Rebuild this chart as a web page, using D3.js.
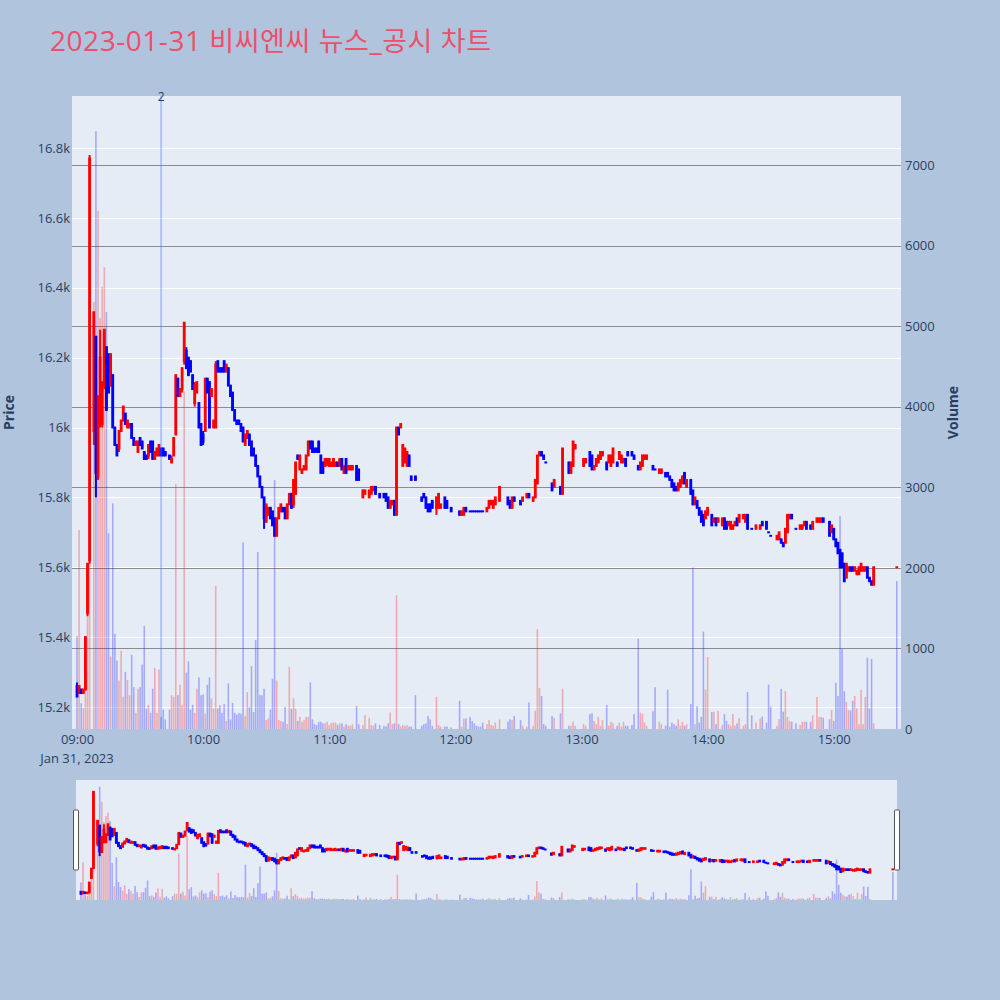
<!DOCTYPE html>
<html><head><meta charset="utf-8">
<script src="https://cdn.jsdelivr.net/npm/d3@7"></script>
<style>
body{margin:0;background:#b0c4de;}
svg{display:block;font-family:"Open Sans",Verdana,Arial,sans-serif;}
</style>
</head><body>
<svg id="chart" width="1000" height="1000"></svg>
<script>
// ---------------- DATA (minute offset from 09:00, OHLC, volume) ----------------
const minutes = [
0,1,2,3,4,5,6,8,9,10,11,12,13,14,15,16,
17,18,19,20,21,22,23,24,25,26,27,28,29,30,31,32,33,34,35,36,37,38,39,40,41,42,
44,45,46,47,48,49,50,51,52,53,54,55,56,57,58,59,60,
61,62,63,64,65,66,67,68,69,70,71,
72,73,74,75,76,77,78,79,80,81,82,83,84,85,86,87,88,89,
90,91,92,93,94,95,96,97,98,99,100,101,102,103,104,105,106,107,108,109,110,
111,112,113,114,115,116,117,118,119,120,121,122,123,124,125,126,127,128,129,130,131,
133,134,136,137,139,140,141,142,144,146,147,148,149,150,151,152,153,154,155,156,157,158,159,161,164,165,166,167,168,169,171,172,173,175,176,178,182,183,184,185,187,188,189,190,191,192,193,
195,196,197,198,199,201,205,206,207,208,211,212,214,215,217,218,219,220,221,222,223,226,227,230,231,234,235,236,237,241,242,244,245,246,247,248,249,250,252,253,254,255,257,258,259,260,261,262,
264,265,267,268,269,270,271,274,275,277,278,280,281,282,283,284,285,286,287,288,289,290,292,293,294,295,296,297,298,299,300,302,303,304,305,307,308,309,310,311,312,313,314,315,317,318,319,
321,323,325,326,328,329,330,333,334,335,336,337,338,339,340,342,344,345,346,347,349,350,352,353,354,355,358,359,360,361,362,363,364,365,366,367,368,369,370,371,372,373,374,375,376,377,378,379,390];

const opens = [
15260,15240,15250,15240,15250,15470,15620,15990,16260,15860,16010,16010,16120,16230,16210,16120,
16150,16000,15950,15940,15990,16020,16040,16000,16000,16010,15970,15950,15930,15970,15960,15930,15920,15920,15960,15960,15910,15920,15920,15940,15940,15930,
15920,15900,15920,15980,16140,16090,16110,16190,16220,16200,16190,16150,16070,16100,16070,16010,15980,
15990,16140,16130,16090,16000,16000,16190,16170,16170,16190,16160,
16170,16120,16100,16050,16020,16020,16010,16000,15950,15970,15980,15960,15940,15920,15890,15860,15830,15800,
15730,15750,15770,15760,15740,15690,15740,15760,15770,15770,15740,15780,15810,15780,15810,15920,15880,15870,15880,15880,15920,
15960,15960,15940,15940,15960,15920,15900,15890,15900,15890,15890,15890,15890,15900,15890,15910,15870,15910,15880,15880,15880,
15890,15880,15800,15810,15800,15810,15820,15830,15810,15810,15810,15800,15770,15780,15790,15750,16000,16000,15890,15900,15890,15920,15860,15860,15800,15810,15800,15780,15780,15790,15770,15770,15770,15800,15790,15770,15760,15750,15750,15770,15760,15760,15760,15760,15760,15760,15760,
15760,15770,15780,15770,15780,15790,15800,15790,15770,15800,15790,15790,15800,15810,15790,15800,15840,15920,15930,15920,15900,15840,15830,15830,15810,15900,15870,15890,15940,15890,15900,15930,15920,15880,15890,15900,15910,15920,15900,15900,15890,15900,15900,15910,15900,15900,15910,15930,
15930,15920,15890,15880,15890,15910,15910,15890,15880,15870,15870,15870,15870,15860,15850,15840,15830,15820,15830,15840,15870,15830,15850,15820,15780,15790,15770,15760,15750,15740,15750,15750,15730,15740,15730,15720,15740,15730,15720,15710,15710,15720,15740,15730,15740,15730,15750,
15710,15710,15710,15730,15730,15700,15690,15680,15680,15680,15670,15670,15700,15740,15750,15710,15710,15710,15720,15730,15720,15710,15730,15730,15730,15740,15730,15700,15710,15680,15670,15650,15640,15610,15570,15590,15600,15600,15590,15580,15580,15590,15590,15590,15600,15570,15560,15550,15600];

const highs = [
15270,15260,15250,15250,15400,15610,16780,16330,16260,16090,16280,16130,16280,16230,16210,16210,
16150,16000,15950,15990,16020,16060,16040,16020,16010,16010,15970,15960,15960,15970,15960,15930,15920,15950,15960,15960,15930,15940,15950,15940,15940,15930,
15920,15920,15970,16150,16140,16110,16170,16300,16230,16200,16190,16150,16130,16130,16070,16010,15990,
16140,16140,16130,16110,16020,16190,16190,16170,16170,16190,16180,
16170,16120,16100,16050,16020,16020,16010,16000,15980,15990,15980,15960,15940,15920,15890,15860,15830,15800,
15780,15770,15770,15760,15740,15740,15770,15780,15770,15770,15780,15810,15810,15850,15900,15920,15920,15880,15890,15920,15960,
15960,15960,15940,15940,15960,15920,15900,15910,15910,15910,15900,15910,15900,15900,15910,15910,15890,15910,15890,15890,15890,
15890,15880,15820,15820,15820,15830,15830,15830,15810,15810,15810,15800,15790,15790,15790,16000,16000,16010,15950,15940,15930,15920,15860,15860,15800,15810,15800,15780,15780,15790,15800,15810,15780,15800,15790,15770,15760,15760,15770,15770,15760,15760,15760,15760,15760,15760,15760,
15770,15790,15790,15790,15800,15830,15800,15790,15800,15800,15790,15800,15810,15810,15800,15850,15920,15930,15930,15920,15900,15840,15850,15830,15940,15900,15900,15960,15950,15910,15910,15930,15920,15890,15910,15920,15930,15930,15900,15920,15920,15940,15900,15930,15920,15910,15910,15930,
15930,15920,15890,15900,15920,15920,15920,15890,15880,15880,15880,15870,15870,15860,15850,15840,15830,15840,15850,15860,15870,15850,15850,15820,15800,15790,15770,15760,15750,15760,15770,15750,15740,15740,15740,15740,15740,15730,15730,15730,15720,15730,15740,15750,15750,15750,15750,
15710,15720,15720,15730,15730,15700,15690,15690,15700,15680,15670,15710,15750,15750,15750,15710,15720,15720,15730,15730,15720,15730,15740,15740,15740,15740,15730,15720,15710,15680,15670,15650,15640,15610,15610,15600,15600,15600,15600,15590,15600,15610,15600,15600,15600,15570,15560,15600,15600];

const lows = [
15230,15240,15240,15240,15250,15460,15610,15950,15800,15850,16000,16000,16110,16050,16100,16120,
16000,15950,15920,15930,15990,16020,16010,16000,16000,15970,15950,15950,15930,15950,15940,15910,15910,15910,15930,15910,15910,15920,15920,15920,15920,15920,
15910,15900,15920,15980,16090,16090,16100,16180,16170,16150,16160,16110,16060,16100,16000,15950,15950,
15990,16100,16000,16090,16000,16000,16160,16160,16160,16160,16160,
16120,16090,16050,16020,16010,16010,15990,15960,15950,15970,15950,15920,15920,15890,15860,15830,15800,15710,
15730,15750,15740,15720,15690,15690,15740,15760,15760,15740,15740,15780,15770,15770,15810,15910,15880,15870,15880,15880,15920,
15940,15930,15930,15930,15930,15870,15870,15890,15890,15890,15890,15890,15890,15890,15890,15880,15870,15870,15880,15880,15880,
15850,15850,15800,15810,15800,15810,15820,15810,15800,15800,15790,15770,15770,15780,15750,15750,15980,16000,15890,15900,15890,15890,15850,15850,15790,15800,15770,15760,15760,15770,15750,15770,15770,15770,15770,15760,15750,15750,15750,15760,15760,15760,15760,15760,15760,15760,15760,
15760,15770,15780,15770,15780,15790,15780,15770,15770,15790,15780,15790,15800,15800,15790,15800,15840,15920,15920,15910,15900,15820,15830,15810,15810,15870,15870,15890,15940,15890,15900,15890,15880,15880,15890,15900,15910,15920,15880,15900,15890,15900,15890,15910,15900,15900,15890,15920,
15920,15910,15880,15880,15890,15910,15910,15880,15880,15870,15870,15860,15860,15850,15830,15820,15820,15820,15830,15840,15840,15830,15810,15780,15780,15770,15750,15730,15720,15740,15750,15720,15730,15720,15730,15720,15710,15710,15720,15710,15710,15720,15720,15730,15740,15730,15710,
15710,15710,15710,15720,15710,15700,15690,15680,15680,15670,15660,15670,15700,15740,15740,15710,15710,15710,15720,15710,15710,15710,15730,15730,15730,15730,15690,15700,15680,15660,15640,15600,15600,15560,15570,15590,15590,15590,15590,15580,15580,15590,15590,15590,15570,15560,15550,15550,15600];

const closes = [
15230,15260,15240,15250,15400,15610,16770,16330,15870,16090,16200,16130,16280,16050,16100,16210,
16000,15950,15920,15990,16020,16060,16010,16020,16010,15970,15950,15960,15960,15950,15940,15910,15910,15950,15930,15910,15930,15940,15950,15920,15920,15920,
15910,15910,15970,16150,16090,16110,16170,16300,16170,16150,16160,16110,16120,16130,16000,15950,15960,
16140,16100,16000,16110,16020,16180,16160,16160,16160,16160,16180,
16120,16090,16050,16020,16010,16010,15990,15960,15980,15990,15950,15920,15920,15890,15860,15830,15800,15740,
15780,15770,15740,15720,15690,15740,15770,15780,15760,15740,15780,15810,15770,15850,15900,15910,15920,15880,15890,15920,15960,
15940,15930,15930,15930,15930,15870,15870,15910,15910,15910,15900,15910,15900,15890,15910,15880,15890,15870,15890,15890,15890,
15850,15850,15820,15820,15820,15830,15830,15810,15800,15800,15790,15770,15790,15790,15750,16000,15980,16010,15950,15940,15930,15890,15850,15850,15790,15800,15770,15760,15760,15770,15800,15810,15780,15770,15770,15760,15750,15760,15770,15760,15760,15760,15760,15760,15760,15760,15760,
15770,15790,15790,15790,15800,15830,15780,15770,15800,15790,15780,15800,15810,15800,15800,15850,15920,15930,15920,15910,15900,15820,15850,15810,15940,15870,15900,15960,15950,15910,15910,15890,15880,15890,15910,15920,15930,15930,15880,15920,15920,15940,15890,15930,15920,15910,15890,15920,
15920,15910,15880,15900,15920,15920,15920,15880,15880,15880,15880,15860,15860,15850,15830,15820,15820,15840,15850,15860,15840,15850,15810,15780,15800,15770,15750,15730,15720,15760,15770,15720,15740,15720,15740,15740,15710,15710,15730,15730,15720,15730,15720,15750,15750,15750,15710,
15710,15720,15720,15720,15710,15700,15690,15690,15700,15670,15660,15710,15750,15750,15740,15710,15720,15720,15730,15710,15710,15730,15740,15740,15740,15730,15690,15720,15680,15660,15640,15600,15600,15560,15610,15600,15590,15590,15600,15590,15600,15610,15600,15600,15570,15560,15550,15600,15600];

const volumes = [
1150,2470,320,260,1150,1900,5800,5300,7420,6430,5100,5490,5730,5175,2430,900,
2800,1180,850,600,970,400,710,610,420,920,520,200,500,520,800,1280,250,300,200,500,760,200,740,150,240,120,
240,420,400,3040,420,550,300,4190,700,840,240,300,200,500,640,420,430,
190,550,640,380,255,1775,255,295,200,310,100,
565,120,325,200,180,200,190,2317,160,457,270,780,210,1103,2196,420,420,500,
110,130,240,623,3090,600,110,100,90,275,60,772,250,380,250,100,150,90,110,150,150,
578,120,60,50,90,90,70,70,90,50,75,80,80,50,70,70,30,60,40,40,60,
284,60,50,172,140,50,40,70,50,40,30,70,205,60,70,1660,60,30,50,40,50,30,30,420,40,60,70,160,120,40,400,50,30,30,30,20,350,30,130,130,150,100,70,40,30,30,80,
60,110,50,40,80,120,90,120,110,160,110,40,30,330,40,227,1237,508,410,60,40,161,136,195,500,40,40,90,40,60,40,185,195,100,60,150,40,110,298,40,90,70,40,80,30,90,40,40,
50,185,1120,200,190,80,40,220,518,90,60,40,490,30,80,60,40,120,40,90,40,60,310,2006,60,281,80,150,1208,490,893,210,214,60,224,50,185,100,60,40,185,40,70,136,40,60,460,
170,80,132,153,80,552,277,40,124,496,215,471,150,100,90,70,50,90,91,90,90,170,397,150,150,140,120,236,100,574,409,2643,993,471,335,236,227,351,409,256,60,484,60,397,885,256,869,71,1836];

const priceTicks = [15200,15400,15600,15800,16000,16200,16400,16600,16800];
const priceTickLabels = ["15.2k","15.4k","15.6k","15.8k","16k","16.2k","16.4k","16.6k","16.8k"];
const volumeTicks = [0,1000,2000,3000,4000,5000,6000,7000];
const timeTickLabels = ["09:00","10:00","11:00","12:00","13:00","14:00","15:00"];
const dateLabel = "Jan 31, 2023";
const newsTimes = ["09:40"];
const newsLabels = ["2"];
const chartTitle = "2023-01-31 비씨엔씨 뉴스_공시 차트";

// ---------------- SETUP ----------------
const svg = d3.select("#chart");
const P = {l:72, r:901, t:96, b:729};
const S = {l:76, r:897, t:780, b:900};
const RED = "#ff0000", BLUE = "#0000ff";
const TICK_FONT = 13;
const base = new Date(2023,0,31,9,0,0);
const toDate = m => new Date(base.getTime() + m*60000);
const parseHM = s => { const [h,m] = s.split(":").map(Number); return new Date(2023,0,31,h,m,0); };

const xDomain = [toDate(-2.38), toDate(392.0)];
const priceDomain = [15137, 16949];
const volDomain = [0, 7856];

const x = d3.scaleTime().domain(xDomain).range([P.l, P.r]);
const yP = d3.scaleLinear().domain(priceDomain).range([P.b, P.t]);
const yV = d3.scaleLinear().domain(volDomain).range([P.b, P.t]);
const xs = d3.scaleTime().domain(xDomain).range([S.l, S.r]);
const ysP = d3.scaleLinear().domain(priceDomain).range([S.b, S.t]);
const ysV = d3.scaleLinear().domain(volDomain).range([S.b, S.t]);

let prevDir = 1;
const rows = minutes.map((m,i) => {
  const o = opens[i], c = closes[i];
  const dir = c > o ? 1 : (c < o ? -1 : prevDir);
  prevDir = dir;
  return {date: toDate(m), o, h: highs[i], l: lows[i], c, v: volumes[i], dir, vdir: c > o ? 1 : -1};
});

// title: Latin runs in Open Sans 28px, Hangul runs in the CJK fallback, stretched to the reference width
const title = svg.append("text").attr("x", 50).attr("y", 51).attr("fill", "#ee4f6a")
  .attr("textLength", 441).attr("lengthAdjust", "spacing");
chartTitle.match(/[\uAC00-\uD7A3]+|[^\uAC00-\uD7A3]+/g).forEach(run => {
  const hangul = /[\uAC00-\uD7A3]/.test(run);
  title.append("tspan")
    .attr("font-family", hangul ? '"Noto Sans CJK KR",sans-serif' : '"Open Sans",sans-serif')
    .attr("font-size", hangul ? 27 : 28)
    .text(run);
});

// plot bg
svg.append("rect").attr("x", P.l).attr("y", P.t).attr("width", P.r-P.l).attr("height", P.b-P.t).attr("fill", "#e5ecf6");

// grids
svg.append("g").selectAll("line").data(priceTicks).join("line")
  .attr("x1", P.l).attr("x2", P.r).attr("y1", d => Math.round(yP(d))+0.5).attr("y2", d => Math.round(yP(d))+0.5)
  .attr("stroke", "#ffffff").attr("stroke-width", 1);
svg.append("g").selectAll("line").data(volumeTicks.filter(d => d > 0)).join("line")
  .attr("x1", P.l).attr("x2", P.r).attr("y1", d => Math.round(yV(d))+0.5).attr("y2", d => Math.round(yV(d))+0.5)
  .attr("stroke", "#8c8c8c").attr("stroke-width", 1);

svg.append("defs").html(
  `<clipPath id="cpMain"><rect x="${P.l}" y="${P.t}" width="${P.r-P.l}" height="${P.b-P.t}"/></clipPath>
   <clipPath id="cpSl"><rect x="${S.l}" y="${S.t}" width="${S.r-S.l}" height="${S.b-S.t}"/></clipPath>`);

function drawSeries(g, sx, sp, sv) {
  g.append("g").selectAll("rect").data(rows).join("rect")
    .attr("x", d => sx(d.date) - 0.8).attr("width", 1.6)
    .attr("y", d => sv(d.v)).attr("height", d => sv(0) - sv(d.v))
    .attr("fill", d => d.vdir > 0 ? "rgba(255,0,0,0.28)" : "rgba(0,0,255,0.28)");
  const cg = g.append("g");
  cg.selectAll("line").data(rows).join("line")
    .attr("x1", d => sx(d.date)).attr("x2", d => sx(d.date))
    .attr("y1", d => sp(d.h)).attr("y2", d => sp(d.l))
    .attr("stroke", d => d.dir > 0 ? RED : BLUE).attr("stroke-width", 2);
  cg.selectAll("rect").data(rows).join("rect")
    .attr("x", d => sx(d.date) - 1.4).attr("width", 2.8)
    .attr("y", d => Math.min(sp(d.o), sp(d.c)) - 1)
    .attr("height", d => Math.abs(sp(d.o) - sp(d.c)) + 2)
    .attr("fill", d => d.dir > 0 ? RED : BLUE);
}

drawSeries(svg.append("g").attr("clip-path", "url(#cpMain)"), x, yP, yV);

// news line
newsTimes.forEach((t,i) => {
  const nx = x(parseHM(t));
  svg.append("line").attr("x1", nx).attr("x2", nx).attr("y1", P.t).attr("y2", P.b)
    .attr("stroke", "rgba(80,120,235,0.35)").attr("stroke-width", 2);
  svg.append("text").attr("x", nx).attr("y", P.t + 5).attr("text-anchor", "middle")
    .attr("font-size", 12).attr("fill", "#2a3f5f").text(newsLabels[i]);
});

// axes
const axL = d3.axisLeft(yP).tickValues(priceTicks).tickFormat((d,i) => priceTickLabels[i]).tickSize(0).tickPadding(2);
const gL = svg.append("g").attr("transform", `translate(${P.l},0)`).call(axL);
const axR = d3.axisRight(yV).tickValues(volumeTicks).tickFormat(d3.format("d")).tickSize(0).tickPadding(4);
const gR = svg.append("g").attr("transform", `translate(${P.r},0)`).call(axR);
const axB = d3.axisBottom(x).tickValues(timeTickLabels.map(parseHM)).tickFormat((d,i) => timeTickLabels[i]).tickSize(0).tickPadding(6);
const gB = svg.append("g").attr("transform", `translate(0,${P.b})`).call(axB);
[gL, gR, gB].forEach(g => {
  g.select(".domain").remove();
  g.selectAll("text").attr("font-size", TICK_FONT).attr("fill", "#2a3f5f").attr("font-family", '"Open Sans",sans-serif');
});
svg.append("text").attr("x", x(parseHM(timeTickLabels[0]))).attr("y", 763).attr("text-anchor", "middle")
  .attr("font-size", TICK_FONT).attr("fill", "#2a3f5f").text(dateLabel);

svg.append("text").attr("transform", `translate(14,${(P.t+P.b)/2}) rotate(-90)`).attr("text-anchor", "middle")
  .attr("font-size", 14).attr("font-weight", "bold").attr("fill", "#2a3f5f").text("Price");
svg.append("text").attr("transform", `translate(958,${(P.t+P.b)/2}) rotate(-90)`).attr("text-anchor", "middle")
  .attr("font-size", 14).attr("font-weight", "bold").attr("fill", "#2a3f5f").text("Volume");

// range slider
svg.append("rect").attr("x", S.l).attr("y", S.t).attr("width", S.r-S.l).attr("height", S.b-S.t).attr("fill", "#e5ecf6");
drawSeries(svg.append("g").attr("clip-path", "url(#cpSl)"), xs, ysP, ysV);
[S.l - 2.5, S.r - 2.5].forEach(hx => {
  svg.append("rect").attr("x", hx).attr("y", 810).attr("width", 5).attr("height", 60)
    .attr("fill", "#ffffff").attr("stroke", "#555").attr("stroke-width", 1).attr("rx", 1);
});
</script>
</body></html>
